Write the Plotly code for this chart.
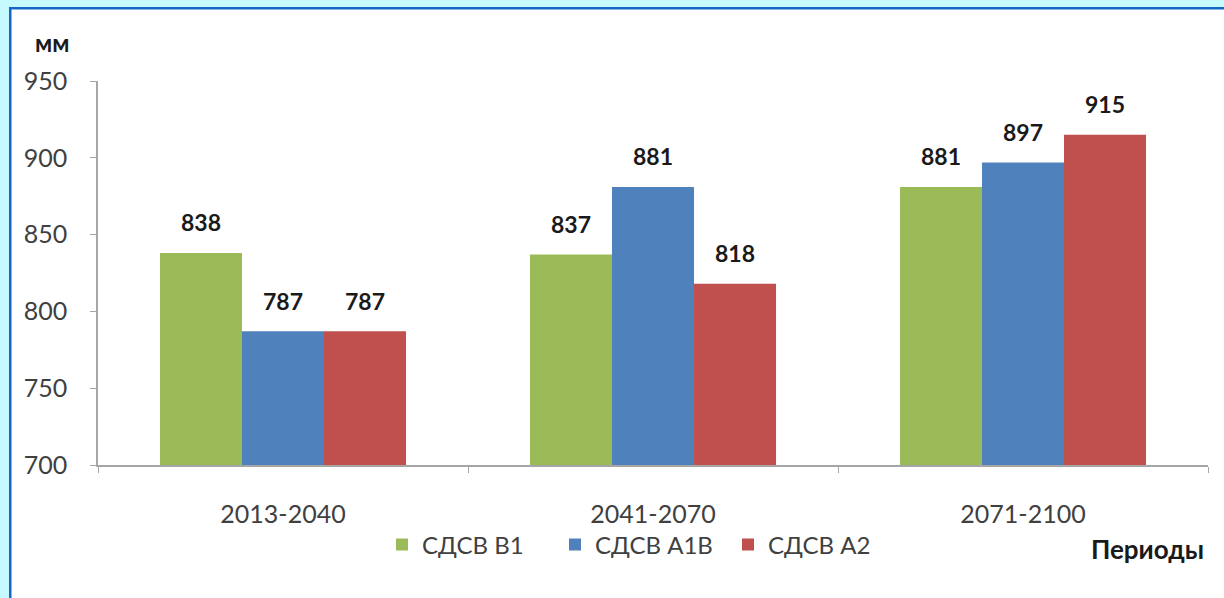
import plotly.graph_objects as go

periods = ["2013-2040", "2041-2070", "2071-2100"]
series_names = ["СДСВ B1", "СДСВ A1B", "СДСВ A2"]
b1 = [838, 837, 881]
a1b = [787, 881, 897]
a2 = [787, 818, 915]
colors = ["#9BBB59", "#4F81BD", "#C0504D"]
y_ticks = [700, 750, 800, 850, 900, 950]

FONT = "Lato, 'Open Sans', sans-serif"

W, H = 1224, 598
L, R, T, B = 98, 16, 81, 133
pw, ph = W - L - R, H - T - B


def px_x(p):
    return (p - L) / pw


def px_y(p):
    return (H - B - p) / ph


fig = go.Figure()
for name, vals, col in zip(series_names, [b1, a1b, a2], colors):
    fig.add_trace(go.Bar(
        name=name, x=periods, y=vals, marker_color=col, marker_line_width=0,
        text=vals,
        texttemplate="<span style='font-size:23px'><b>%{y}</b></span><br> ",
        textposition="outside",
        constraintext="none",
        textfont=dict(family=FONT, size=12, color="#1a1a1a"),
        cliponaxis=False,
    ))

shapes = [
    dict(type="rect", xref="paper", yref="paper", x0=px_x(0), x1=px_x(W), y0=px_y(7), y1=px_y(0),
         fillcolor="#C6FAFF", line_width=0, layer="below"),
    dict(type="rect", xref="paper", yref="paper", x0=px_x(0), x1=px_x(9), y0=px_y(H), y1=px_y(0),
         fillcolor="#C6FAFF", line_width=0, layer="below"),
    dict(type="rect", xref="paper", yref="paper", x0=px_x(9), x1=px_x(W), y0=px_y(9.5), y1=px_y(7),
         fillcolor="#1467C4", line_width=0, layer="below"),
    dict(type="rect", xref="paper", yref="paper", x0=px_x(9), x1=px_x(11.5), y0=px_y(H), y1=px_y(7),
         fillcolor="#1467C4", line_width=0, layer="below"),
]

fig.update_layout(
    width=W, height=H,
    margin=dict(l=L, r=R, t=T, b=B),
    paper_bgcolor="white", plot_bgcolor="white",
    barmode="group", bargap=0.335, bargroupgap=0,
    font=dict(family=FONT, size=25, color="#404040"),
    showlegend=True,
    legend=dict(orientation="h", x=px_x(382), xanchor="left", y=px_y(545), yanchor="middle",
                font=dict(family=FONT, size=24, color="#404040"), itemwidth=30,
                entrywidth=128, entrywidthmode="pixels",
                traceorder="normal", bgcolor="rgba(0,0,0,0)"),
    shapes=shapes,
    annotations=[
        dict(text="<b>мм</b>", xref="paper", yref="paper", x=px_x(52), y=px_y(42),
             xanchor="center", yanchor="middle", showarrow=False,
             font=dict(family=FONT, size=24, color="#1a1a1a")),
        dict(text="<b>Периоды</b>", xref="paper", yref="paper", x=px_x(1206), y=px_y(549),
             xanchor="right", yanchor="middle", showarrow=False,
             font=dict(family=FONT, size=26, color="#1a1a1a")),
    ],
)

fig.update_xaxes(
    type="category", showline=True, linecolor="#A6A6A6", linewidth=1.5,
    ticks="outside", tickson="boundaries", ticklen=6, tickcolor="#A6A6A6",
    ticklabelstandoff=26, showgrid=False,
    tickfont=dict(family=FONT, size=25, color="#404040"),
)
fig.update_yaxes(
    range=[700, 950], tickvals=y_ticks, showline=True, linecolor="#A6A6A6", linewidth=1.5,
    ticks="outside", ticklen=6, tickcolor="#A6A6A6", showgrid=False, zeroline=False,
    ticklabelstandoff=18,
    tickfont=dict(family=FONT, size=25, color="#404040"),
)

fig.write_html(
    "out.html",
    config={"displayModeBar": False},
    post_script="document.body.style.margin='0';document.body.style.overflow='hidden';",
)
